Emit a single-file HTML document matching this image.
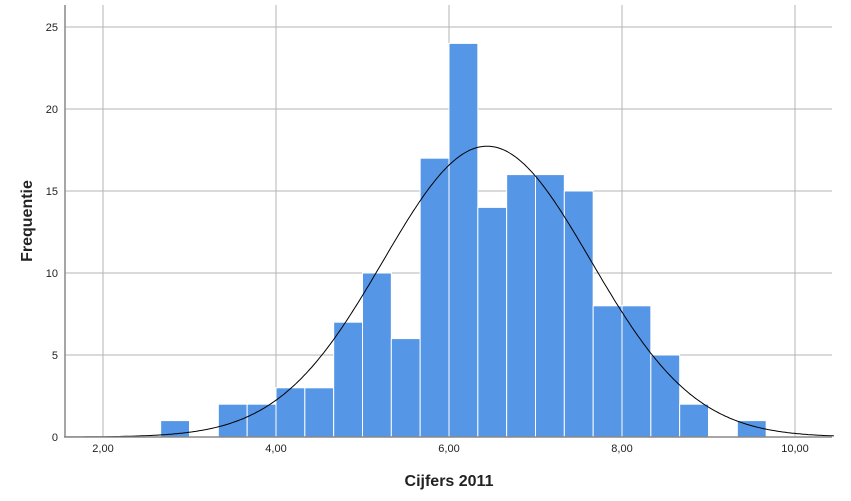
<!DOCTYPE html>
<html><head><meta charset="utf-8"><style>
body{margin:0;background:#fff;}
svg{display:block;font-family:"Liberation Sans",sans-serif;}
</style></head><body>
<svg id="chart" width="851" height="501">
<g id="grid"></g>
<g id="bars"></g>
<path id="curve" fill="none" stroke="#000" stroke-width="1"/>
<g id="axes"></g>
<text x="449" y="486" text-anchor="middle" font-size="16" font-weight="bold" fill="#222">Cijfers 2011</text>
<text transform="translate(32,221) rotate(-90)" text-anchor="middle" font-size="16" font-weight="bold" fill="#222">Frequentie</text>
</svg>
<script>
const binStart = 2.6667;
const binWidth = 1/3;
const counts = [1,0,2,2,3,3,7,10,6,17,24,14,16,16,15,8,8,5,2,0,1];
const xTicks = [2,4,6,8,10];
const xTickLabels = ["2,00","4,00","6,00","8,00","10,00"];
const yTicks = [0,5,10,15,20,25];
const curveMean = 6.44;
const curveSd = 1.2;
const curveN = 160;

const NS="http://www.w3.org/2000/svg";
const X0=65,X1=832,Y0=437,YT=5;
const xs=v=>103+(v-2)*86.5;
const ys=v=>437-v*16.4;
function mk(t,a,p){const e=document.createElementNS(NS,t);for(const k in a)e.setAttribute(k,a[k]);p.appendChild(e);return e;}
const grid=document.getElementById('grid'),bars=document.getElementById('bars'),axes=document.getElementById('axes');
yTicks.forEach(t=>{
  if(t>0){const l=mk('line',{x1:X0,x2:X1,y1:ys(t),y2:ys(t),stroke:'#b4b4b4','stroke-width':1},grid);
  
  }
  const tx=mk('text',{x:58,y:ys(t)+4,'text-anchor':'end','font-size':11,fill:'#222'},axes);
  tx.textContent=t;
  
  
});
xTicks.forEach((t,i)=>{
  const l=mk('line',{x1:xs(t),x2:xs(t),y1:YT,y2:Y0,stroke:'#b4b4b4','stroke-width':1},grid);
  
  
  const tx=mk('text',{x:xs(t),y:452,'text-anchor':'middle','font-size':11,fill:'#222'},axes);
  tx.textContent=xTickLabels[i];
  
  
});
counts.forEach((c,i)=>{
  if(c<=0)return;
  const a=binStart+i*binWidth,b=a+binWidth;
  const r=mk('rect',{x:xs(a),y:ys(c),width:xs(b)-xs(a),height:Y0-ys(c),fill:'#5596e6',stroke:'#fff','stroke-width':1},bars);
  
  
});
let d='';
for(let v=1.55;v<=10.45;v+=0.02){
  const y=curveN*binWidth/(curveSd*Math.sqrt(2*Math.PI))*Math.exp(-0.5*((v-curveMean)/curveSd)**2);
  d+=(d?'L':'M')+xs(v).toFixed(1)+','+ys(y).toFixed(1);
}
document.getElementById('curve').setAttribute('d',d);
const ya=mk('line',{x1:X0,x2:X0,y1:YT,y2:Y0,stroke:'#888','stroke-width':1.5},axes);


const xa=mk('line',{x1:X0,x2:X1,y1:Y0,y2:Y0,stroke:'#888','stroke-width':1.5},axes);


</script>
</body></html>
